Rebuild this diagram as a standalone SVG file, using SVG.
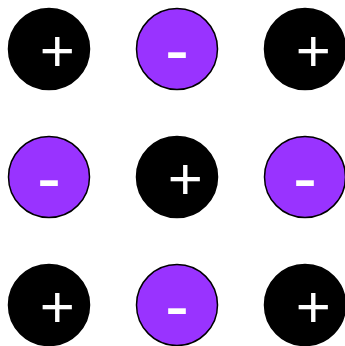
<svg xmlns="http://www.w3.org/2000/svg" width="345" height="346" viewBox="0 0 345 346">
<style>
.pos circle{fill:#000;stroke:#000;stroke-width:1.5}
.neg circle{fill:#9933ff;stroke:#000;stroke-width:1.5}
text{font-family:"Liberation Sans",Arial,sans-serif;font-size:60px;fill:#fff;text-anchor:middle}
.neg text{font-size:72px}
</style>
<rect width="345" height="346" fill="#fff"/>
<g id="n11" class="pos"><circle cx="49" cy="49" r="40.5"/><text x="57.3" y="71">+</text></g>
<g id="n12" class="neg"><circle cx="177" cy="49" r="40.5"/><text x="177" y="73.5">-</text></g>
<g id="n13" class="pos"><circle cx="305" cy="49" r="40.5"/><text x="313.3" y="71">+</text></g>
<g id="n21" class="neg"><circle cx="49" cy="177" r="40.5"/><text x="49" y="201.5">-</text></g>
<g id="n22" class="pos"><circle cx="177" cy="177" r="40.5"/><text x="185.3" y="199">+</text></g>
<g id="n23" class="neg"><circle cx="305" cy="177" r="40.5"/><text x="305" y="201.5">-</text></g>
<g id="n31" class="pos"><circle cx="49" cy="305" r="40.5"/><text x="57.3" y="327">+</text></g>
<g id="n32" class="neg"><circle cx="177" cy="305" r="40.5"/><text x="177" y="329.5">-</text></g>
<g id="n33" class="pos"><circle cx="305" cy="305" r="40.5"/><text x="313.3" y="327">+</text></g>
<g id="connectors"/>
</svg>
